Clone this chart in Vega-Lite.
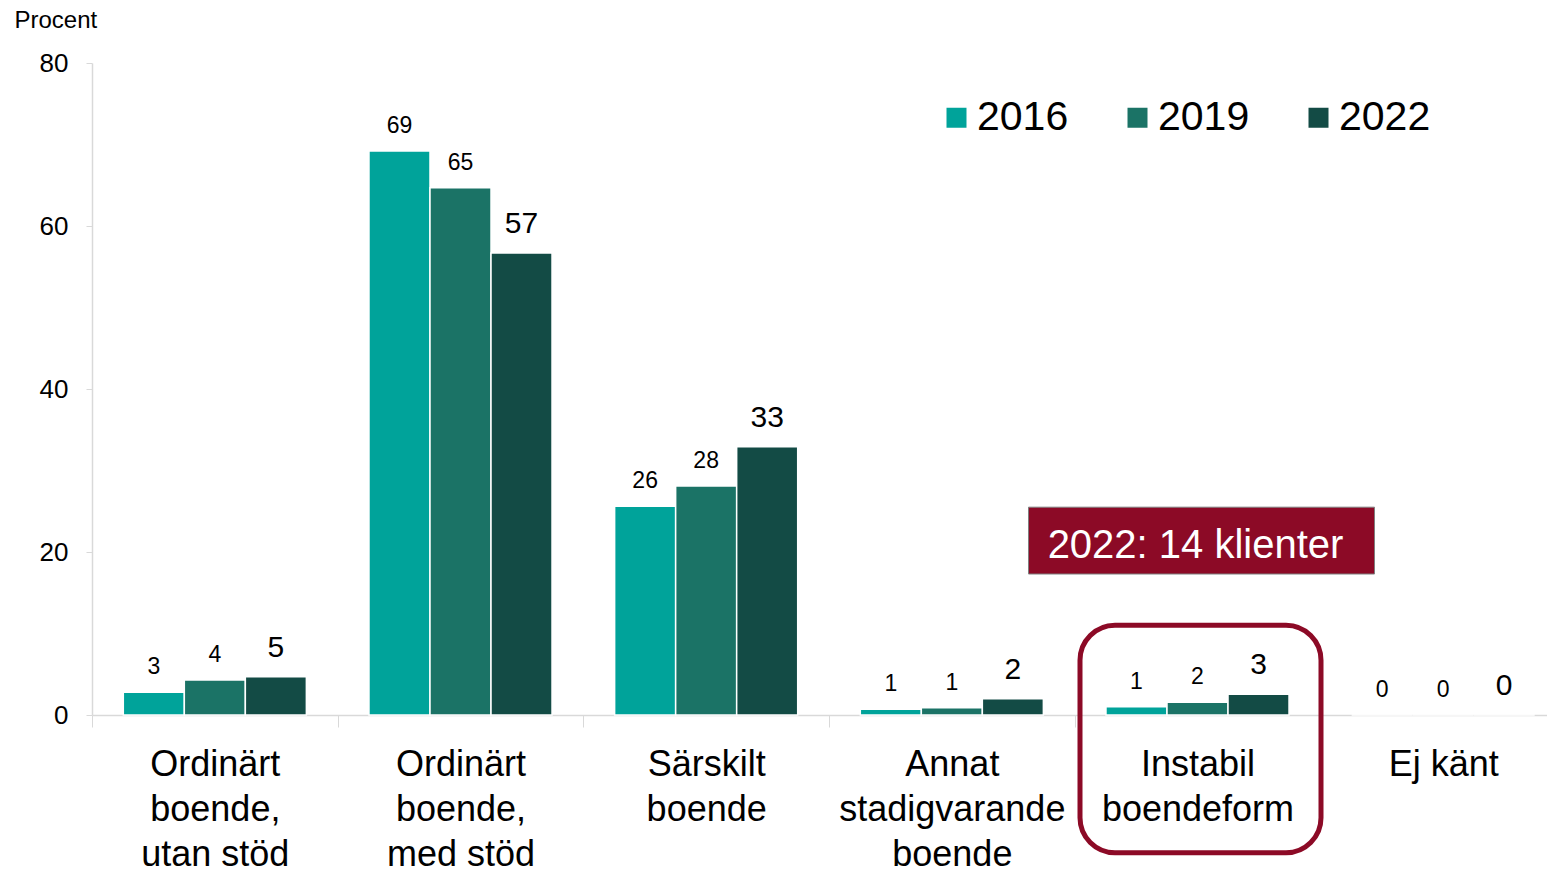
{
  "$schema": "https://vega.github.io/schema/vega-lite/v6.json",
  "autosize": "none",
  "width": 1455,
  "height": 652,
  "padding": {"left": 92, "top": 63, "right": 0, "bottom": 156},
  "background": "white",
  "config": {
    "view": {"stroke": null},
    "font": "Liberation Sans"
  },
  "encoding": {
    "x": {
      "field": "kategori",
      "type": "nominal",
      "scale": {
        "domain": ["Ordinärt boende, utan stöd", "Ordinärt boende, med stöd", "Särskilt boende", "Annat stadigvarande boende", "Instabil boendeform", "Ej känt"],
        "range": [0, 1474],
        "paddingInner": 0,
        "paddingOuter": 0
      },
      "axis": {
        "title": null,
        "labelFontSize": 36,
        "labelColor": "#000000",
        "labelLineHeight": 45,
        "labelPadding": 20,
        "labelLimit": 400,
        "labelAngle": 0,
        "tickBand": "extent",
        "tickSize": 12,
        "tickColor": "#D9D9D9",
        "domainColor": "#D9D9D9",
        "domainWidth": 1.5,
        "labelExpr": "datum.value == 'Ordinärt boende, utan stöd' ? ['Ordinärt','boende,','utan stöd'] : datum.value == 'Ordinärt boende, med stöd' ? ['Ordinärt','boende,','med stöd'] : datum.value == 'Särskilt boende' ? ['Särskilt','boende'] : datum.value == 'Annat stadigvarande boende' ? ['Annat','stadigvarande','boende'] : datum.value == 'Instabil boendeform' ? ['Instabil','boendeform'] : datum.value"
      }
    },
    "y": {
      "field": "värde",
      "type": "quantitative",
      "scale": {"domain": [0, 80], "nice": false},
      "axis": {
        "title": "Procent",
        "titleAngle": 0,
        "titleAlign": "left",
        "titleBaseline": "alphabetic",
        "titleX": -78,
        "titleY": -36,
        "titleFontSize": 24,
        "titleFontWeight": "normal",
        "titleColor": "#000000",
        "values": [0, 20, 40, 60, 80],
        "labelFontSize": 26,
        "labelColor": "#000000",
        "labelPadding": 18,
        "tickSize": 6,
        "tickColor": "#D9D9D9",
        "domainColor": "#D9D9D9",
        "domainWidth": 1.5,
        "grid": false
      }
    }
  },
  "layer": [
    {
      "data": {"name": "main", "values": [
        {"kategori": "Ordinärt boende, utan stöd", "år": "2016", "värde": 2.8},
        {"kategori": "Ordinärt boende, utan stöd", "år": "2019", "värde": 4.3},
        {"kategori": "Ordinärt boende, utan stöd", "år": "2022", "värde": 4.7},
        {"kategori": "Ordinärt boende, med stöd", "år": "2016", "värde": 69.2},
        {"kategori": "Ordinärt boende, med stöd", "år": "2019", "värde": 64.7},
        {"kategori": "Ordinärt boende, med stöd", "år": "2022", "värde": 56.7},
        {"kategori": "Särskilt boende", "år": "2016", "värde": 25.6},
        {"kategori": "Särskilt boende", "år": "2019", "värde": 28.1},
        {"kategori": "Särskilt boende", "år": "2022", "värde": 32.9},
        {"kategori": "Annat stadigvarande boende", "år": "2016", "värde": 0.7},
        {"kategori": "Annat stadigvarande boende", "år": "2019", "värde": 0.9},
        {"kategori": "Annat stadigvarande boende", "år": "2022", "värde": 2.0},
        {"kategori": "Instabil boendeform", "år": "2016", "värde": 1.0},
        {"kategori": "Instabil boendeform", "år": "2019", "värde": 1.55},
        {"kategori": "Instabil boendeform", "år": "2022", "värde": 2.55},
        {"kategori": "Ej känt", "år": "2016", "värde": 0},
        {"kategori": "Ej känt", "år": "2019", "värde": 0},
        {"kategori": "Ej känt", "år": "2022", "värde": 0}
      ]},
      "layer": [
        {
          "mark": {"type": "bar", "stroke": "white", "strokeWidth": 1.5},
          "encoding": {
            "xOffset": {"field": "år", "type": "nominal", "scale": {"paddingInner": 0, "paddingOuter": 0.513}},
            "color": {
              "field": "år",
              "type": "nominal",
              "scale": {"domain": ["2016", "2019", "2022"], "range": ["#00A39A", "#1B7366", "#134B45"]},
              "legend": {
                "title": null,
                "orient": "none",
                "direction": "horizontal",
                "legendX": 844,
                "legendY": 34,
                "symbolType": "square",
                "symbolSize": 400,
                "symbolStrokeWidth": 0,
                "labelFontSize": 41,
                "labelColor": "#000000",
                "labelOffset": 0,
                "columnPadding": 48
              }
            }
          }
        },
        {
          "transform": [{"filter": "datum['år'] != '2022'"}],
          "mark": {"type": "text", "fontSize": 23, "dy": -18, "baseline": "alphabetic", "color": "#000000"},
          "encoding": {
            "xOffset": {"field": "år", "type": "nominal", "scale": {"paddingInner": 0, "paddingOuter": 0.513}},
            "text": {"field": "värde", "type": "quantitative", "format": ".0f"}
          }
        },
        {
          "transform": [{"filter": "datum['år'] == '2022'"}],
          "mark": {"type": "text", "fontSize": 30, "dy": -20, "baseline": "alphabetic", "color": "#000000"},
          "encoding": {
            "xOffset": {"field": "år", "type": "nominal", "scale": {"paddingInner": 0, "paddingOuter": 0.513}},
            "text": {"field": "värde", "type": "quantitative", "format": ".0f"}
          }
        }
      ]
    },
    {
      "data": {"values": [
        {"kategori": "Instabil boendeform", "värde": 17.3, "värde2": 25.5, "etikett": "2022: 14 klienter"}
      ]},
      "layer": [
        {
          "mark": {"type": "bar", "width": 346, "xOffset": 4, "fill": "#8C0A26", "stroke": "#7F7F7F", "strokeWidth": 1},
          "encoding": {"y2": {"field": "värde2"}}
        },
        {
          "mark": {"type": "text", "fontSize": 40, "color": "white", "baseline": "alphabetic", "align": "center", "dx": -2, "dy": -16},
          "encoding": {"text": {"field": "etikett"}}
        }
      ]
    },
    {
      "data": {"values": [
        {"kategori": "Instabil boendeform", "värde": -16.9, "värde2": 11.0}
      ]},
      "mark": {"type": "bar", "width": 241, "xOffset": 3, "cornerRadius": 35, "fill": null, "fillOpacity": 0, "stroke": "#8C0A26", "strokeWidth": 5},
      "encoding": {"y2": {"field": "värde2"}}
    }
  ]
}
